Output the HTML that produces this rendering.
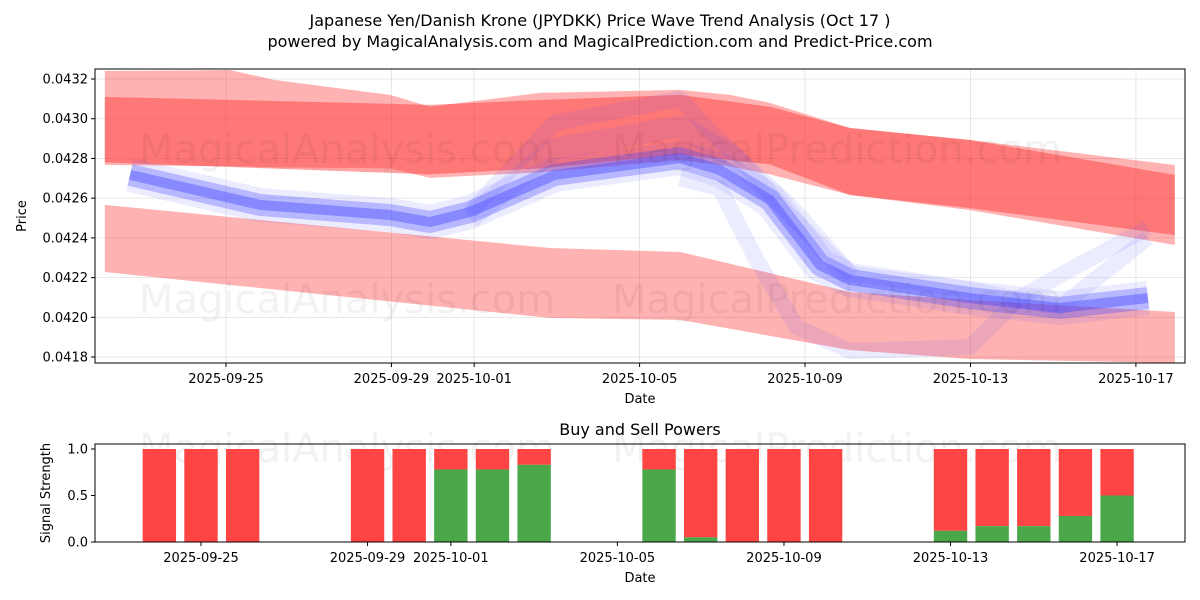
<!DOCTYPE html>
<html><head><meta charset="utf-8">
<style>
body{margin:0;background:#fff;}
svg{display:block;font-family:"DejaVu Sans","Liberation Sans",sans-serif;}
</style></head>
<body>
<svg id="chart" width="1200" height="600" xmlns="http://www.w3.org/2000/svg">
<rect width="1200" height="600" fill="#fff"/>
<text x="600" y="26" text-anchor="middle" font-size="16" fill="#000">Japanese Yen/Danish Krone (JPYDKK) Price Wave Trend Analysis (Oct 17 )</text>
<text x="600" y="47" text-anchor="middle" font-size="16" fill="#000">powered by MagicalAnalysis.com and MagicalPrediction.com and Predict-Price.com</text>
<g id="topPanel"></g>
<g id="botPanel"></g>
</svg>
<script>
// ---- data (days relative to 2025-09-25) ----
const tickDays = [0, 4, 6, 10, 14, 18, 22];
const tickLabels = ["2025-09-25","2025-09-29","2025-10-01","2025-10-05","2025-10-09","2025-10-13","2025-10-17"];
const priceTicks = [0.0418,0.0420,0.0422,0.0424,0.0426,0.0428,0.0430,0.0432];
// red outer upper band
const bandADays = [-2.93, 0.1, 1.18, 3.97, 4.93, 7.59, 10.98, 12.19, 13.15, 15.09, 17.99, 22.94];
const bandAHi   = [0.04324,0.043245,0.043195,0.04312,0.04306,0.04313,0.043145,0.04312,0.04308,0.042953,0.042893,0.042767];
const bandALo   = [0.042767,0.04276,0.042755,0.04275,0.042702,0.04273,0.042792,0.04276,0.04272,0.042616,0.04254,0.042364];
// red inner upper band
const bandBDays = [-2.93, 4.93, 7.59, 10.98, 13.15, 15.09, 17.99, 22.94];
const bandBHi   = [0.04311,0.04307,0.043094,0.04312,0.04306,0.042953,0.042893,0.042717];
const bandBLo   = [0.04278,0.04272,0.04275,0.04282,0.04277,0.042616,0.04255,0.042414];
// red lower band
const bandCDays = [-2.93, 7.83, 10.98, 15.09, 17.99, 22.94];
const bandCHi   = [0.042566,0.042349,0.042329,0.042127,0.042087,0.042027];
const bandCLo   = [0.042228,0.041997,0.041987,0.041835,0.04179,0.04177];
// blue main wave
const blueDays = [-2.32, 0.82, 3.97, 4.93, 5.9, 7.95, 10.98, 11.94, 13.15, 14.36, 15.09, 17.99, 20.16, 22.29];
const blueVals = [0.042717,0.042566,0.042515,0.04248,0.04253,0.042717,0.042802,0.042742,0.042591,0.042263,0.042188,0.042097,0.042047,0.042097];
// faint blue variants
const blueUpDays = [5.9, 7.95, 10.98, 11.6, 12.5, 13.6, 15.09, 17.99, 20.16, 22.29];
const blueUpVals = [0.04253,0.04298,0.04310,0.04296,0.04278,0.04252,0.04222,0.04214,0.04205,0.04240];
const blueMidDays = [5.9, 7.95, 10.98, 12.19, 13.6, 15.09];
const blueMidVals = [0.04250,0.04285,0.04296,0.04282,0.04255,0.04220];
const blueLowDays = [10.98, 11.94, 12.8, 13.8, 15.09, 17.99, 19.2, 20.5, 22.29];
const blueLowVals = [0.04270,0.04265,0.04230,0.04195,0.04183,0.04185,0.04210,0.04225,0.04245];
// signal bars (days relative to 2025-09-25)
const barDays = [-1,0,1,4,5,6,7,8,11,12,13,14,15,18,19,20,21,22];
const buyVals = [0,0,0,0,0,0.78,0.78,0.83,0.78,0.05,0,0,0,0.12,0.17,0.17,0.28,0.5];

const NS="http://www.w3.org/2000/svg";
function mk(tag, attrs, parent){const e=document.createElementNS(NS,tag);for(const k in attrs)e.setAttribute(k,attrs[k]);parent.appendChild(e);return e;}
const TL=95,TR=1185,TT=69,TB=363;
const tx=d=>226+d*41.36;
const ty=p=>79+(0.0432-p)*198600;
const BL=95,BR=1185,BT=444,BB=542;
const bx=d=>201+d*41.64;
const by=v=>542-v*93;

const topG=document.getElementById('topPanel'), botG=document.getElementById('botPanel');

function watermarks(g, ys){
  for(const y of ys){
    let w=mk('text',{x:347,y:y,'text-anchor':'middle','font-size':40,fill:'#000','fill-opacity':0.05},g);w.textContent='MagicalAnalysis.com';
    
    
    w=mk('text',{x:837,y:y,'text-anchor':'middle','font-size':40,fill:'#000','fill-opacity':0.05},g);w.textContent='MagicalPrediction.com';
    
    
  }
}
const defs=mk('defs',{},document.getElementById('chart'));
const cp=mk('clipPath',{id:'clipTop'},defs);mk('rect',{x:TL,y:TT,width:TR-TL,height:TB-TT},cp);

for(const d of tickDays){const l=mk('line',{x1:tx(d),x2:tx(d),y1:TT,y2:TB,stroke:'#b0b0b0','stroke-width':0.8,'stroke-opacity':0.35},topG);

}
for(const p of priceTicks){const l=mk('line',{x1:TL,x2:TR,y1:ty(p),y2:ty(p),stroke:'#b0b0b0','stroke-width':0.8,'stroke-opacity':0.35},topG);

}

const plot=mk('g',{'clip-path':'url(#clipTop)'},topG);


function band(days,hi,lo,fill,op,name){
  let d='M'+days.map((x,i)=>tx(x)+','+ty(hi[i])).join('L');
  for(let i=days.length-1;i>=0;i--)d+='L'+tx(days[i])+','+ty(lo[i]);
  const p=mk('path',{d:d+'Z',fill:fill,'fill-opacity':op},plot);
  
  
}
band(bandADays,bandAHi,bandALo,'#ff0000',0.3,'upper-outer-band');
band(bandBDays,bandBHi,bandBLo,'#ff3030',0.45,'upper-inner-band');
band(bandCDays,bandCHi,bandCLo,'#ff0000',0.3,'lower-band');
function line(days,vals,w,op,name){
  const p=mk('polyline',{points:days.map((x,i)=>tx(x)+','+ty(vals[i])).join(' '),fill:'none',stroke:'#4040ff','stroke-width':w,'stroke-opacity':op,'stroke-linejoin':'round'},plot);
  
  
}
line(blueUpDays,blueUpVals,16,0.1,'blue-wave-upper');
line(blueMidDays,blueMidVals,22,0.1,'blue-wave-middle');
line(blueLowDays,blueLowVals,16,0.1,'blue-wave-lower');
line(blueDays,blueVals,34,0.1,'blue-wave-halo');
line(blueDays,blueVals,22,0.3,'blue-wave-band');
line(blueDays,blueVals,10,0.4,'blue-wave-main');
watermarks(topG,[163,313]);
let fr=mk('rect',{x:TL,y:TT,width:TR-TL,height:TB-TT,fill:'none',stroke:'#000','stroke-width':1},topG);


tickDays.forEach((d,i)=>{
  const l=mk('line',{x1:tx(d),x2:tx(d),y1:TB,y2:TB+4,stroke:'#000'},topG);
  
  
  const tt=mk('text',{x:tx(d),y:TB+20,'text-anchor':'middle','font-size':13},topG);tt.textContent=tickLabels[i];
  
  
});
priceTicks.forEach(p=>{
  const l=mk('line',{x1:TL-4,x2:TL,y1:ty(p),y2:ty(p),stroke:'#000'},topG);
  
  
  const tt=mk('text',{x:TL-7,y:ty(p)+4.5,'text-anchor':'end','font-size':13},topG);tt.textContent=p.toFixed(4);
  
  
});
let lbl=mk('text',{x:640,y:403,'text-anchor':'middle','font-size':13},topG);lbl.textContent='Date';


lbl=mk('text',{x:26,y:216,'text-anchor':'middle','font-size':13,transform:'rotate(-90 26 216)'},topG);lbl.textContent='Price';



lbl=mk('text',{x:640,y:435,'text-anchor':'middle','font-size':16},botG);lbl.textContent='Buy and Sell Powers';


watermarks(botG,[462]);
barDays.forEach((d,i)=>{
  const x=bx(d)-16.7,w=33.4;
  const r=mk('rect',{x:x,y:by(1),width:w,height:by(buyVals[i])-by(1),fill:'#ff4444'},botG);
  
  
  const g=mk('rect',{x:x,y:by(buyVals[i]),width:w,height:by(0)-by(buyVals[i]),fill:'#4aa84a'},botG);
  
  
});
fr=mk('rect',{x:BL,y:BT,width:BR-BL,height:BB-BT,fill:'none',stroke:'#000','stroke-width':1},botG);


tickDays.forEach((d,i)=>{
  const l=mk('line',{x1:bx(d),x2:bx(d),y1:BB,y2:BB+4,stroke:'#000'},botG);
  
  
  const tt=mk('text',{x:bx(d),y:BB+20,'text-anchor':'middle','font-size':13},botG);tt.textContent=tickLabels[i];
  
  
});
[0,0.5,1].forEach(v=>{
  const l=mk('line',{x1:BL-4,x2:BL,y1:by(v),y2:by(v),stroke:'#000'},botG);
  
  
  const tt=mk('text',{x:BL-7,y:by(v)+4.5,'text-anchor':'end','font-size':13},botG);tt.textContent=v.toFixed(1);
  
  
});
lbl=mk('text',{x:640,y:582,'text-anchor':'middle','font-size':13},botG);lbl.textContent='Date';


lbl=mk('text',{x:50,y:493,'text-anchor':'middle','font-size':13,transform:'rotate(-90 50 493)'},botG);lbl.textContent='Signal Strength';


</script>
</body></html>
